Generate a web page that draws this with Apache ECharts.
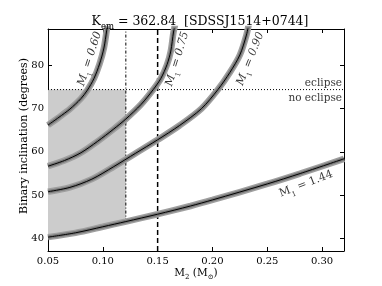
<!DOCTYPE html>
<html><head><meta charset="utf-8">
<script src="https://cdn.jsdelivr.net/npm/echarts@6/dist/echarts.min.js"></script>
<style>html,body{margin:0;padding:0;background:#fff}#c{width:382px;height:286px}</style>
</head><body><div id="c"></div>
<script>
// ---- data ----
const xTicks = [0.05, 0.10, 0.15, 0.20, 0.25, 0.30];
const yTicks = [40, 50, 60, 70, 80];
const xRange = [0.05, 0.32];
const yRange = [37.1, 88.4];

const m060X = [0.05, 0.06, 0.07, 0.08, 0.086, 0.092, 0.097, 0.101, 0.1035, 0.1045];
const m060Y = [66.2, 68.0, 69.9, 72.3, 74.3, 77.0, 80.3, 84.0, 88.0, 90.0];

const m075X = [0.05, 0.065, 0.08, 0.095, 0.11, 0.121, 0.135, 0.146, 0.153, 0.1586, 0.162, 0.1645, 0.1665];
const m075Y = [56.7, 58.0, 59.8, 62.4, 65.3, 67.6, 71.0, 74.4, 77.0, 80.2, 83.3, 87.7, 90.0];

const m090X = [0.05, 0.07, 0.09, 0.11, 0.13, 0.15, 0.17, 0.19, 0.205, 0.216, 0.225, 0.231, 0.2335];
const m090Y = [50.8, 51.8, 53.7, 56.6, 59.7, 62.8, 66.1, 70.0, 74.4, 78.4, 82.4, 87.0, 90.0];

const m144X = [0.05, 0.075, 0.10, 0.121, 0.15, 0.18, 0.20, 0.25, 0.28, 0.32];
const m144Y = [40.3, 41.3, 42.7, 43.9, 45.6, 47.5, 48.9, 52.6, 55.0, 58.4];

const curveNames = ['0.60', '0.75', '0.90', '1.44'];
const eclipseLimit = 74.4;
const qLimit = 0.121;
const m2Marker = 0.15;

// annotation anchors (data coords) and angles
const labelAt = [[0.088, 81.5], [0.168, 81.5], [0.2346, 81.5], [0.2854, 52.6]];
const labelAngle = [72, 73, 68, 21];
const labelItalic = [true, true, true, false];

// ---- chart ----
const FONT = 'DejaVu Serif';
const zip = (xs, ys) => xs.map((x, i) => [x, ys[i]]);
const curves = [zip(m060X, m060Y), zip(m075X, m075Y), zip(m090X, m090Y), zip(m144X, m144Y)];
const lowerAtQ = m144Y[m144X.indexOf(qLimit)];

const series = [];
// shaded allowed region
series.push({
  type: 'custom', z: 1, silent: true,
  data: [[xRange[0], eclipseLimit]],
  renderItem: (params, api) => {
    const pts = [];
    m144X.forEach((x, i) => { if (x <= qLimit) pts.push(api.coord([x, m144Y[i]])); });
    pts.push(api.coord([qLimit, eclipseLimit]));
    pts.push(api.coord([xRange[0], eclipseLimit]));
    return { type: 'polygon', shape: { points: pts }, style: { fill: '#cccccc' } };
  }
});
// reference lines
series.push({ type: 'line', z: 2, silent: true, showSymbol: false, data: [[qLimit, lowerAtQ], [qLimit, yRange[1]]],
  lineStyle: { color: '#000', width: 1, type: [3, 2, 1, 2] } });
series.push({ type: 'line', z: 2, silent: true, showSymbol: false, data: [[m2Marker, yRange[0]], [m2Marker, yRange[1]]],
  lineStyle: { color: '#000', width: 1.5, type: [5, 3] } });
series.push({ type: 'line', z: 2, silent: true, showSymbol: false, data: [[xRange[0], eclipseLimit], [xRange[1], eclipseLimit]],
  lineStyle: { color: '#000', width: 1, type: [1, 2] } });

curves.forEach((d) => {
  const base = { type: 'line', silent: true, showSymbol: false, smooth: 0.3, data: d };
  series.push(Object.assign({}, base, { z: 3, lineStyle: { color: '#a0a0a0', width: 6.5 } }));
  series.push(Object.assign({}, base, { z: 4, lineStyle: { color: '#7a7a7a', width: 3.5 } }));
  series.push(Object.assign({}, base, { z: 5, lineStyle: { color: '#000', width: 1 } }));
});

// curve annotations
series.push({
  type: 'scatter', z: 10, silent: true, symbolSize: 0,
  data: labelAt.map((p, i) => {
    const it = labelItalic[i] ? 'italic' : 'normal';
    return {
      value: p,
      label: {
        show: true, position: 'inside', rotate: labelAngle[i], align: 'center', verticalAlign: 'middle',
        formatter: '{m|M}{s|1}{t| = ' + curveNames[i] + '}',
        rich: {
          m: { fontFamily: FONT, fontStyle: it, fontSize: 11, color: '#000', lineHeight: 18 },
          s: { fontFamily: FONT, fontSize: 7, color: '#000', verticalAlign: 'bottom', lineHeight: 18 },
          t: { fontFamily: FONT, fontStyle: it, fontSize: 11, color: '#000', lineHeight: 18 }
        }
      }
    };
  })
});
// eclipse labels
series.push({
  type: 'scatter', z: 10, silent: true, symbolSize: 0,
  data: [
    { value: [xRange[1], eclipseLimit], label: { show: true, position: [0, 0], align: 'right', verticalAlign: 'bottom', offset: [-2, -1], formatter: 'eclipse', fontFamily: FONT, fontSize: 10.5, color: '#000' } },
    { value: [xRange[1], eclipseLimit], label: { show: true, position: [0, 0], align: 'right', verticalAlign: 'top', offset: [-2, 3], formatter: 'no eclipse', fontFamily: FONT, fontSize: 10.5, color: '#000' } }
  ]
});

const axisLine = { show: true, lineStyle: { color: '#000', width: 1 } };
const option = {
  animation: false,
  backgroundColor: '#fff',
  title: {
    left: 195, top: 7, textAlign: 'center',
    text: '{k|K}{s|em}{k| = 362.84  [SDSSJ1514+0744]}',
    textStyle: {
      fontWeight: 'normal',
      rich: {
        k: { fontFamily: FONT, fontSize: 12.5, fontWeight: 'normal', color: '#000', lineHeight: 19 },
        s: { fontFamily: FONT, fontSize: 8.5, fontWeight: 'normal', color: '#000', verticalAlign: 'bottom', lineHeight: 19 }
      }
    }
  },
  grid: { left: 48, right: 38, top: 29, bottom: 29 },
  xAxis: [
    { type: 'value', position: 'bottom', min: xRange[0], max: xRange[1],
      axisLine, splitLine: { show: false },
      axisTick: { inside: true, length: 4, customValues: xTicks, lineStyle: { color: '#000' } },
      axisLabel: { customValues: xTicks, margin: 5, fontFamily: FONT, fontSize: 10, color: '#000', formatter: v => v.toFixed(2) },
      name: '{a|M}{s|2}{a| (M}{s|⊙}{a|)}', nameLocation: 'middle', nameGap: 14, nameMoveOverlap: false,
      nameTextStyle: { rich: {
        a: { fontFamily: FONT, fontSize: 10.5, color: '#000', lineHeight: 16 },
        s: { fontFamily: FONT, fontSize: 7, color: '#000', verticalAlign: 'bottom', lineHeight: 16 } } } },
    { type: 'value', position: 'top', min: xRange[0], max: xRange[1],
      axisLine, splitLine: { show: false },
      axisTick: { inside: true, length: 4, customValues: xTicks, lineStyle: { color: '#000' } },
      axisLabel: { show: false } }
  ],
  yAxis: [
    { type: 'value', position: 'left', min: yRange[0], max: yRange[1],
      axisLine, splitLine: { show: false },
      axisTick: { inside: true, length: 4, customValues: yTicks, lineStyle: { color: '#000' } },
      axisLabel: { customValues: yTicks, margin: 4, fontFamily: FONT, fontSize: 10, color: '#000' },
      name: 'Binary inclination (degrees)', nameLocation: 'middle', nameRotate: 90, nameGap: 18, nameMoveOverlap: false,
      nameTextStyle: { fontFamily: FONT, fontSize: 11, color: '#000', padding: [0, 0, 0, 8] } },
    { type: 'value', position: 'right', min: yRange[0], max: yRange[1],
      axisLine, splitLine: { show: false },
      axisTick: { inside: true, length: 4, customValues: yTicks, lineStyle: { color: '#000' } },
      axisLabel: { show: false } }
  ],
  series
};
const chart = echarts.init(document.getElementById('c'), null, { renderer: 'canvas' });
chart.setOption(option);
</script></body></html>
